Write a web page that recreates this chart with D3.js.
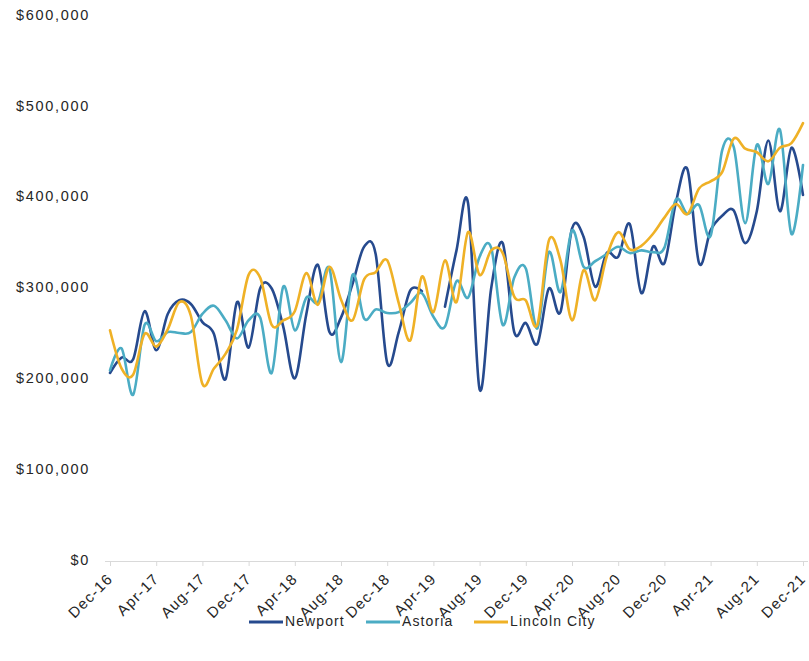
<!DOCTYPE html>
<html>
<head>
<meta charset="utf-8">
<script src="https://cdn.jsdelivr.net/npm/d3@7"></script>
<style>
  html, body { margin: 0; padding: 0; background: #ffffff; }
  svg { display: block; }
  text { font-family: "Liberation Sans", Arial, sans-serif; fill: #262626; }
</style>
</head>
<body>
<svg id="chart" width="809" height="661"></svg>
<script>
// ---- data ----
const months = [
  "Dec-16","Jan-17","Feb-17","Mar-17","Apr-17","May-17","Jun-17","Jul-17","Aug-17","Sep-17","Oct-17","Nov-17",
  "Dec-17","Jan-18","Feb-18","Mar-18","Apr-18","May-18","Jun-18","Jul-18","Aug-18","Sep-18","Oct-18","Nov-18",
  "Dec-18","Jan-19","Feb-19","Mar-19","Apr-19","May-19","Jun-19","Jul-19","Aug-19","Sep-19","Oct-19","Nov-19",
  "Dec-19","Jan-20","Feb-20","Mar-20","Apr-20","May-20","Jun-20","Jul-20","Aug-20","Sep-20","Oct-20","Nov-20",
  "Dec-20","Jan-21","Feb-21","Mar-21","Apr-21","May-21","Jun-21","Jul-21","Aug-21","Sep-21","Oct-21","Nov-21",
  "Dec-21"
];
const tickLabels = ["Dec-16","Apr-17","Aug-17","Dec-17","Apr-18","Aug-18","Dec-18","Apr-19",
  "Aug-19","Dec-19","Apr-20","Aug-20","Dec-20","Apr-21","Aug-21","Dec-21"];
const yTicks = [0, 100000, 200000, 300000, 400000, 500000, 600000];

const newport = [
  207000,224000,222000,275000,232000,272000,287000,283000,263000,250000,200000,285000,
  235000,300000,300000,258000,201000,272000,326000,252000,268000,305000,346000,338000,
  218000,252000,298000,297000,null,280000,342000,394000,189000,300000,350000,252000,
  262000,239000,300000,274000,366000,357000,302000,339000,335000,371000,295000,346000,
  328000,395000,431000,328000,364000,380000,386000,350000,385000,463000,385000,455000,
  403000
];
const astoria = [
  210000,234000,183000,260000,242000,252000,251000,252000,272000,281000,265000,245000,
  265000,268000,207000,302000,254000,290000,285000,322000,219000,315000,267000,277000,
  273000,274000,284000,295000,269000,258000,308000,290000,335000,345000,260000,312000,
  322000,256000,340000,296000,364000,324000,330000,338000,346000,339000,342000,340000,
  345000,398000,382000,392000,358000,452000,456000,372000,458000,415000,475000,360000,
  436000
];
const lincolnCity = [
  254000,212000,205000,250000,236000,255000,285000,270000,195000,212000,228000,255000,
  315000,312000,260000,265000,275000,317000,282000,324000,288000,265000,310000,318000,
  331000,284000,243000,313000,274000,331000,285000,362000,315000,342000,339000,291000,
  287000,260000,353000,331000,265000,320000,287000,335000,362000,343000,347000,360000,
  378000,393000,382000,410000,418000,428000,465000,454000,450000,440000,455000,460000,
  482000
];
const seriesNames = ["Newport", "Astoria", "Lincoln City"];
const seriesColors = ["#264a8e", "#4bacc4", "#efb126"];
const seriesValues = [newport, astoria, lincolnCity];

// ---- chart ----
const svg = d3.select("#chart");
const x = d3.scalePoint().domain(months).range([110, 803]);
const y = d3.scaleLinear().domain([0, 600000]).range([561, 16]);

// x axis baseline + ticks
const xAxis = d3.axisBottom(x).tickValues(tickLabels).tickSize(5).tickFormat("");
const gx = svg.append("g").attr("transform", "translate(0,561)").call(xAxis);
gx.select(".domain").attr("stroke", "#d9d9d9").attr("stroke-width", 1)
  .attr("d", "M105,0.5H808");
gx.selectAll(".tick line").attr("stroke", "#d9d9d9");

// x tick labels rotated
svg.append("g").selectAll("text").data(tickLabels).join("text")
  .attr("transform", d => `translate(${x(d) + 1},${577}) rotate(-45)`)
  .attr("text-anchor", "end")
  .attr("dominant-baseline", "middle")
  .style("font-size", "15px")
  .style("letter-spacing", "1.2px")
  .text(d => d);

// y tick labels
const fmt = d3.format(",");
svg.append("g").selectAll("text").data(yTicks).join("text")
  .attr("x", 90)
  .attr("y", d => y(d))
  .attr("text-anchor", "end")
  .attr("dominant-baseline", "middle")
  .style("font-size", "14.5px")
  .style("letter-spacing", "1.7px")
  .text(d => "$" + fmt(d));

// lines
const line = d3.line()
  .defined(d => d.v != null)
  .x(d => x(d.m))
  .y(d => y(d.v))
  .curve(d3.curveCardinal.tension(0));

seriesValues.forEach((vals, i) => {
  const data = months.map((m, j) => ({ m, v: vals[j] }));
  svg.append("path")
    .datum(data)
    .attr("fill", "none")
    .attr("stroke", seriesColors[i])
    .attr("stroke-width", 2.6)
    .attr("stroke-linejoin", "round")
    .attr("stroke-linecap", "round")
    .attr("d", line);
});

// legend
const legendItems = [
  { name: seriesNames[0], color: seriesColors[0], x: 249 },
  { name: seriesNames[1], color: seriesColors[1], x: 366 },
  { name: seriesNames[2], color: seriesColors[2], x: 474 }
];
const lg = svg.append("g");
legendItems.forEach(it => {
  lg.append("line")
    .attr("x1", it.x).attr("x2", it.x + 34)
    .attr("y1", 622).attr("y2", 622)
    .attr("stroke", it.color).attr("stroke-width", 3);
  lg.append("text")
    .attr("x", it.x + 36).attr("y", 622)
    .attr("dominant-baseline", "middle")
    .style("font-size", "14px")
    .style("letter-spacing", "1.1px")
    .text(it.name);
});
</script>
</body>
</html>
